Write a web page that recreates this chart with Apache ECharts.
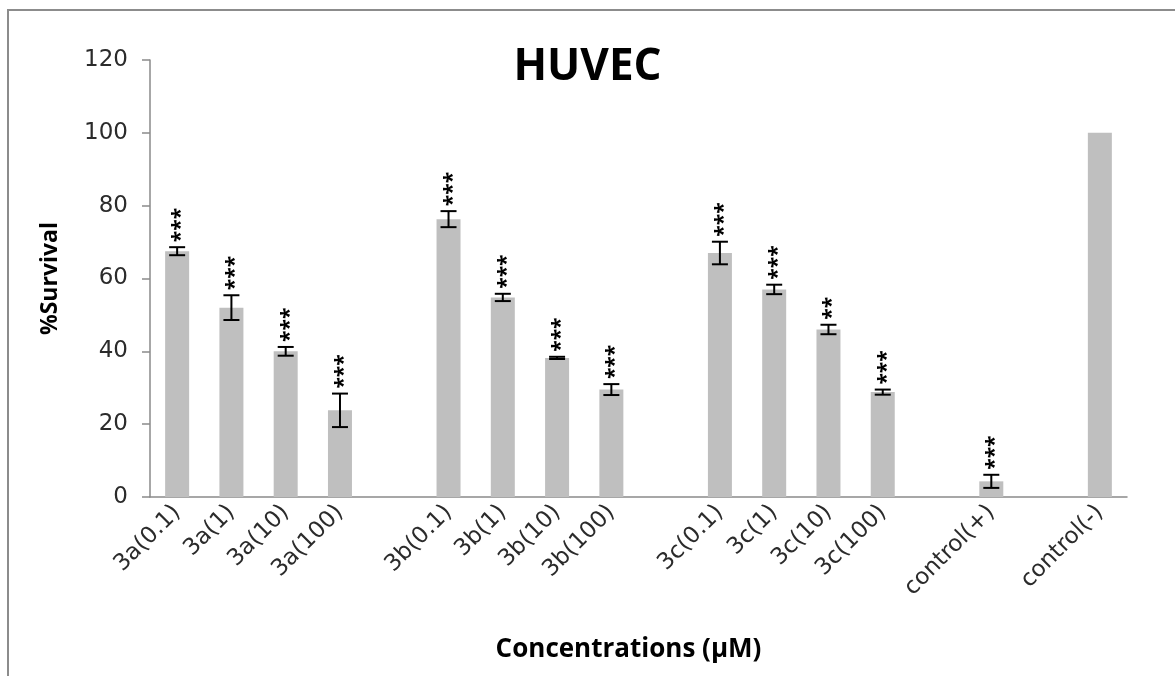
<!DOCTYPE html>
<html>
<head>
<meta charset="utf-8">
<script src="https://cdn.jsdelivr.net/npm/echarts@6/dist/echarts.min.js"></script>
<style>
  html, body { margin: 0; padding: 0; background: #fff; }
  #chart { width: 1175px; height: 676px; }
</style>
</head>
<body>
<div id="chart"></div>
<script>
// ---- data (gaps between groups are empty categories) ----
const categories = ['3a(0.1)', '3a(1)', '3a(10)', '3a(100)', '',
                    '3b(0.1)', '3b(1)', '3b(10)', '3b(100)', '',
                    '3c(0.1)', '3c(1)', '3c(10)', '3c(100)', '',
                    'control(+)', '', 'control(-)'];
const survival = [67.5, 52, 40, 23.8, null,
                  76.3, 54.8, 38.2, 29.5, null,
                  67, 57, 46, 28.8, null,
                  4.3, null, 100];
const errors   = [1.1, 3.4, 1.2, 4.6, null,
                  2.2, 1.0, 0.3, 1.5, null,
                  3.1, 1.3, 1.3, 0.7, null,
                  1.8, null, 0];
const stars    = ['***', '***', '***', '***', '',
                  '***', '***', '***', '***', '',
                  '***', '***', '**', '***', '',
                  '***', '', ''];
const yTicks = [0, 20, 40, 60, 80, 100, 120];

const FONT = '"Open Sans", "DejaVu Sans", sans-serif';
const LFONT = '"DejaVu Sans", sans-serif';

const barData = survival.map(v => (v == null ? '-' : v));
const errData = [];
survival.forEach((v, i) => {
  if (v != null && errors[i] > 0) errData.push([i, v, errors[i], stars[i]]);
});

const chart = echarts.init(document.getElementById('chart'), null, { renderer: 'canvas' });

chart.setOption({
  backgroundColor: '#ffffff',
  animation: false,
  title: {
    text: 'HUVEC',
    left: 'center',
    top: 40,
    textStyle: { fontFamily: FONT, fontSize: 44, fontWeight: 'bold', color: '#000' }
  },
  graphic: [{
    type: 'rect',
    shape: { x: 8, y: 10, width: 1300, height: 800 },
    style: { fill: null, stroke: '#8c8c8c', lineWidth: 2 },
    silent: true
  }],
  grid: { left: 150, right: 48, top: 60, bottom: 179, containLabel: false },
  xAxis: {
    type: 'category',
    data: categories,
    name: 'Concentrations (\u03bcM)',
    nameLocation: 'middle',
    nameGap: 140,
    nameTextStyle: { fontFamily: FONT, fontSize: 26, fontWeight: 'bold', color: '#000', padding: [0, 20, 0, 0] },
    axisLine: { lineStyle: { color: '#8a8a8a', width: 1.5 } },
    axisTick: { show: false },
    axisLabel: {
      interval: 0,
      rotate: 45,
      margin: 12,
      fontFamily: LFONT,
      fontSize: 23,
      color: '#2b2b2b'
    }
  },
  yAxis: {
    type: 'value',
    min: 0,
    max: 120,
    interval: 20,
    name: '%Survival',
    nameLocation: 'middle',
    nameGap: 88,
    nameRotate: 90,
    nameTextStyle: { fontFamily: FONT, fontSize: 23, fontWeight: 'bold', color: '#000' },
    axisLine: { show: true, lineStyle: { color: '#8a8a8a', width: 1.5 } },
    axisTick: { show: true, inside: false, length: 8, lineStyle: { color: '#8a8a8a', width: 1.5 } },
    splitLine: { show: false },
    axisLabel: {
      margin: 22,
      fontFamily: LFONT,
      fontSize: 23,
      color: '#2b2b2b',
      formatter: v => (yTicks.indexOf(v) >= 0 ? String(v) : '')
    }
  },
  series: [
    {
      type: 'bar',
      data: barData,
      barWidth: 24,
      itemStyle: { color: '#bfbfbf' },
      z: 2
    },
    {
      type: 'custom',
      data: errData,
      z: 5,
      renderItem: function (params, api) {
        const i = api.value(0);
        const v = api.value(1);
        const e = api.value(2);
        const s = stars[i];
        const top = api.coord([i, v + e]);
        const bot = api.coord([i, v - e]);
        const hw = 8;
        const st = { stroke: '#000', lineWidth: 2 };
        const children = [
          { type: 'line', shape: { x1: top[0], y1: top[1], x2: bot[0], y2: bot[1] }, style: st },
          { type: 'line', shape: { x1: top[0] - hw, y1: top[1], x2: top[0] + hw, y2: top[1] }, style: st },
          { type: 'line', shape: { x1: bot[0] - hw, y1: bot[1], x2: bot[0] + hw, y2: bot[1] }, style: st }
        ];
        if (s) {
          children.push({
            type: 'text',
            x: top[0] + 4,
            y: top[1] - 5,
            rotation: Math.PI / 2,
            style: {
              text: s,
              fontFamily: FONT,
              fontWeight: 'bold',
              fontSize: 21,
              fill: '#000',
              align: 'left',
              verticalAlign: 'middle'
            }
          });
        }
        return { type: 'group', children: children };
      }
    }
  ]
});
</script>
</body>
</html>
